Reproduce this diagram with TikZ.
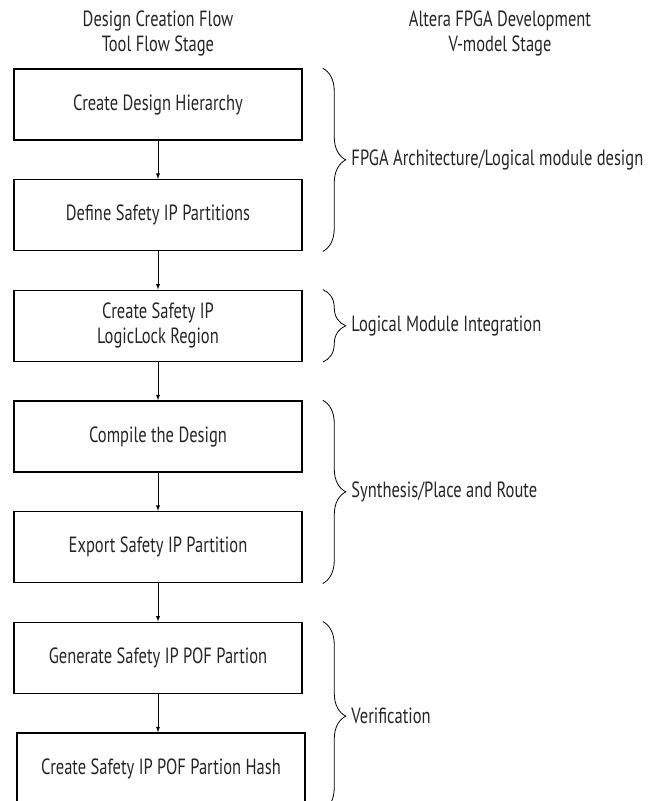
\documentclass[tikz,border=0pt]{standalone}
\usepackage{fontspec}
\setmainfont{PT Sans}[FakeStretch=0.75]
\usetikzlibrary{decorations.pathreplacing}
\definecolor{txtgray}{rgb}{0.15,0.15,0.15}

\begin{document}
\begin{tikzpicture}[x=1pt, y=-1pt,
    stepbox/.style={rectangle, draw, line width=1.5pt, minimum width=288pt, minimum height=71pt, align=center, text=txtgray, font=\fontsize{22}{25}\selectfont},
    headtext/.style={align=center, text=txtgray, font=\fontsize{22}{25}\selectfont},
    stagelabel/.style={anchor=west, xshift=25pt, text=txtgray, font=\fontsize{22}{25}\selectfont},
    flowarrow/.style={-latex, line width=0.9pt},
    stagebrace/.style={decorate, decoration={brace, amplitude=23pt}, line width=0.8pt}]
    \useasboundingbox (0,0) rectangle (660,801);
    \node[headtext] (h1) at (158,33) {Design Creation Flow\\Tool Flow Stage};
    \node[headtext] (h2) at (500,33) {Altera FPGA Development\\V-model Stage};
    \node[stepbox] (b1) at (158,104.5) {Create Design Hierarchy};
    \node[stepbox] (b2) at (158,215.2) {Define Safety IP Partitions};
    \node[stepbox] (b3) at (158,325.8) {Create Safety IP\\LogicLock Region};
    \node[stepbox] (b4) at (158,436.5) {Compile the Design};
    \node[stepbox] (b5) at (158,547.2) {Export Safety IP Partition};
    \node[stepbox] (b6) at (158,657.8) {Generate Safety IP POF Partion};
    \node[stepbox] (b7) at (161,768.5) {Create Safety IP POF Partion Hash};
    \draw[flowarrow] (b1) -- (b2);
    \draw[flowarrow] (b2) -- (b3);
    \draw[flowarrow] (b3) -- (b4);
    \draw[flowarrow] (b4) -- (b5);
    \draw[flowarrow] (b5) -- (b6);
    \draw[flowarrow] (b6.south) -- (b6.south |- b7.north);
    \draw[stagebrace] ([xshift=20pt]b1.north east) -- ([xshift=20pt]b2.south east) node[stagelabel, midway] (s1) {FPGA Architecture/Logical module design};
    \draw[stagebrace] ([xshift=20pt]b3.north east) -- ([xshift=20pt]b3.south east) node[stagelabel, midway] (s2) {Logical Module Integration};
    \draw[stagebrace] ([xshift=20pt]b4.north east) -- ([xshift=20pt]b5.south east) node[stagelabel, midway] (s3) {Synthesis/Place and Route};
    \draw[stagebrace] ([xshift=20pt]b6.north east) -- ([xshift=17pt,yshift=-6pt]b7.south east) node[stagelabel, midway] (s4) {Verification};
\end{tikzpicture}
\end{document}
